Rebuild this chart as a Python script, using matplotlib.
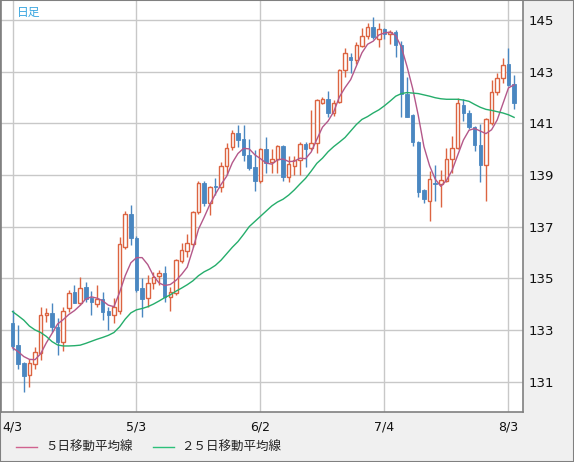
import matplotlib
matplotlib.use('Agg')
import matplotlib.pyplot as plt
from matplotlib.lines import Line2D
import matplotlib.patches as mpatches
import numpy as np

# ---- data (USD/JPY daily) ----
opens = [133.26, 132.42, 131.71, 131.24, 131.67, 132.10, 133.57, 133.64, 133.10, 132.55,
         133.84, 134.46, 134.06, 134.65, 134.22, 134.00, 134.20, 133.73, 133.58, 133.75,
         136.20, 137.48, 136.57, 134.61, 134.23, 134.80, 135.09, 135.19, 134.29, 134.44,
         135.68, 136.07, 136.33, 137.58, 138.70, 137.93, 138.57, 138.52, 139.35, 140.07,
         140.61, 140.38, 139.77, 139.32, 138.78, 139.99, 139.51, 139.60, 140.12, 138.91,
         139.35, 139.58, 140.20, 140.03, 140.25, 141.80, 141.93, 141.39, 141.84, 143.06,
         143.58, 143.45, 144.00, 144.38, 144.71, 144.25, 144.64, 144.46, 144.55, 144.03,
         142.13, 141.32, 140.29, 138.42, 138.00, 138.70, 138.65, 138.78, 139.60, 140.03,
         141.71, 141.41, 140.87, 140.16, 139.39, 141.03, 142.20, 142.74, 143.30, 142.52]
highs = [133.77, 133.19, 131.75, 131.89, 132.33, 133.88, 133.86, 134.06, 133.45, 133.88,
         134.55, 134.74, 135.06, 134.85, 134.50, 134.74, 134.46, 133.90, 134.22, 136.60,
         137.60, 137.82, 136.62, 135.00, 135.13, 135.26, 135.32, 135.48, 134.68, 135.75,
         136.35, 136.72, 137.62, 138.78, 138.75, 138.57, 138.87, 139.52, 140.25, 140.74,
         140.93, 140.93, 140.38, 139.96, 140.05, 140.48, 139.99, 140.16, 140.15, 139.73,
         139.73, 140.29, 140.29, 141.51, 141.95, 142.00, 142.26, 141.90, 143.10, 143.90,
         143.73, 144.16, 144.68, 144.90, 145.10, 144.87, 144.68, 144.60, 144.62, 144.20,
         142.80, 141.35, 140.30, 138.45, 139.17, 139.40, 139.19, 140.03, 140.51, 141.97,
         141.93, 141.51, 140.90, 140.99, 141.19, 142.68, 142.95, 143.52, 143.90, 142.87]
lows = [132.22, 131.49, 130.61, 130.78, 131.50, 131.84, 133.30, 132.91, 132.03, 132.20,
        133.70, 134.03, 133.97, 134.10, 133.58, 133.90, 133.39, 133.00, 133.26, 133.60,
        136.15, 136.30, 134.45, 133.49, 133.90, 134.60, 134.74, 134.10, 133.75, 134.35,
        135.60, 135.84, 136.20, 137.49, 137.80, 137.45, 138.22, 138.35, 139.00, 139.95,
        140.10, 139.55, 139.19, 138.39, 138.70, 139.06, 139.06, 139.06, 138.78, 138.74,
        138.99, 138.99, 139.30, 139.96, 139.86, 141.75, 141.23, 141.28, 141.80, 142.80,
        142.93, 143.30, 143.95, 144.25, 144.25, 143.94, 144.25, 144.07, 143.55, 141.23,
        141.23, 140.12, 138.16, 137.93, 137.23, 138.00, 137.75, 138.74, 139.09, 139.99,
        141.10, 140.77, 139.94, 138.74, 138.00, 140.95, 142.10, 142.55, 142.45, 141.54]
closes = [132.38, 131.68, 131.22, 131.71, 132.13, 133.57, 133.64, 133.10, 132.55, 133.72,
          134.42, 134.06, 134.61, 134.19, 134.10, 134.20, 133.71, 133.59, 133.90, 136.33,
          137.49, 136.55, 134.55, 134.20, 134.80, 135.04, 135.19, 134.29, 134.48, 135.71,
          136.10, 136.35, 137.58, 138.70, 137.93, 138.55, 138.52, 139.34, 140.03, 140.61,
          140.35, 139.77, 139.26, 138.78, 139.99, 139.48, 139.60, 140.12, 138.91, 139.42,
          139.58, 140.20, 139.99, 140.25, 141.90, 141.93, 141.39, 141.80, 143.06, 143.73,
          143.45, 144.03, 144.38, 144.71, 144.33, 144.64, 144.46, 144.55, 144.03, 142.13,
          141.26, 140.29, 138.35, 138.06, 138.83, 138.65, 138.80, 139.60, 140.03, 141.77,
          141.41, 140.84, 140.16, 139.39, 141.15, 142.20, 142.74, 143.26, 142.48, 141.77]
ma5 = [132.31, 132.16, 131.97, 131.86, 131.85, 132.08, 132.50, 132.86, 133.23, 133.40,
       133.60, 133.75, 133.95, 134.20, 134.28, 134.23, 134.13, 133.96, 133.90, 134.45,
       135.10, 135.60, 135.80, 135.80, 135.53, 135.10, 134.82, 134.72, 134.76, 134.92,
       135.15, 135.43, 136.12, 136.90, 137.36, 137.85, 138.26, 138.63, 138.95, 139.47,
       139.83, 140.03, 140.01, 139.78, 139.63, 139.46, 139.42, 139.58, 139.62, 139.52,
       139.53, 139.65, 139.63, 139.89, 140.38, 140.85, 141.09, 141.45, 142.02, 142.38,
       142.69, 143.21, 143.73, 144.06, 144.18, 144.42, 144.50, 144.53, 144.39, 143.95,
       143.20, 142.35, 141.30, 140.10, 139.36, 138.84, 138.56, 138.79, 139.18, 139.77,
       140.35, 140.73, 140.80, 140.70, 140.60, 140.75, 141.13, 141.75, 142.37, 142.49]
ma25 = [133.71, 133.55, 133.38, 133.15, 133.00, 132.90, 132.75, 132.55, 132.42, 132.38,
        132.38, 132.39, 132.41, 132.48, 132.56, 132.64, 132.71, 132.79, 132.90, 133.12,
        133.42, 133.66, 133.78, 133.83, 133.90, 134.00, 134.12, 134.25, 134.36, 134.50,
        134.62, 134.75, 134.90, 135.10, 135.25, 135.36, 135.50, 135.70, 135.95, 136.20,
        136.42, 136.70, 137.00, 137.20, 137.40, 137.60, 137.80, 137.95, 138.06, 138.22,
        138.42, 138.65, 138.87, 139.15, 139.45, 139.65, 139.90, 140.10, 140.27, 140.45,
        140.70, 140.95, 141.15, 141.26, 141.40, 141.52, 141.68, 141.86, 142.05, 142.15,
        142.19, 142.17, 142.15, 142.10, 142.05, 141.99, 141.95, 141.93, 141.93, 141.93,
        141.90, 141.85, 141.73, 141.62, 141.54, 141.50, 141.45, 141.40, 141.33, 141.23]
tick_pos = [0, 22, 44, 66, 88]
tick_labels = ['4/3', '5/3', '6/2', '7/4', '8/3']
yticks = [131, 133, 135, 137, 139, 141, 143, 145]

UP = '#dc6441'
DOWN = '#4a87c1'
MA5C = '#b4588a'
MA25C = '#25ad6b'
GRID = '#c8c8c8'

W, H = 574, 462
fig = plt.figure(figsize=(W / 100, H / 100), dpi=100, facecolor='#f0f0f0')
ax = fig.add_axes([1 / W, 1 - 412 / H, 522 / W, 412 / H])
ax.set_facecolor('white')

x = np.arange(len(closes))
o = np.array(opens); c = np.array(closes); h = np.array(highs); l = np.array(lows)
up = c >= o

for v in yticks:
    ax.axhline(v, color=GRID, lw=1.0, zorder=0)
for p in tick_pos:
    ax.axvline(p, color=GRID, lw=1.0, zorder=0)

ax.vlines(x[up], l[up], h[up], color=UP, lw=1.0, zorder=2)
ax.vlines(x[~up], l[~up], h[~up], color=DOWN, lw=1.0, zorder=2)
bw = 0.62
body_lo = np.minimum(o, c)
body_h = np.maximum(np.abs(c - o), 0.03)
ax.bar(x[up], body_h[up], bottom=body_lo[up], width=bw, facecolor='white',
       edgecolor=UP, linewidth=1.0, zorder=3)
ax.bar(x[~up], body_h[~up], bottom=body_lo[~up], width=bw, facecolor=DOWN,
       edgecolor=DOWN, linewidth=0.6, zorder=3)

ax.plot(x, ma5, color=MA5C, lw=1.0, zorder=4)
ax.plot(x, ma25, color=MA25C, lw=1.0, zorder=4)

ax.set_xlim((1 - 12.5) / 5.636, (523 - 12.5) / 5.636)
ax.set_ylim(141 - (412 - 123.3) / 25.83, 141 + 123.3 / 25.83)

ax.set_xticks(tick_pos)
ax.set_xticklabels(tick_labels, fontsize=9, color='#111111')
ax.set_yticks(yticks)
ax.set_yticklabels([str(v) for v in yticks], fontsize=9.5, color='#111111')
ax.yaxis.tick_right()
ax.tick_params(axis='both', length=0)
ax.tick_params(axis='x', pad=6)
ax.tick_params(axis='y', pad=4)
for s in ['left', 'bottom', 'right']:
    ax.spines[s].set_color('#808080')
    ax.spines[s].set_linewidth(1.2)
ax.spines['top'].set_visible(False)

cjk = ['Noto Sans CJK JP', 'DejaVu Sans']
ax.text(16 / 522, 1 - 12 / 412, '日足', transform=ax.transAxes, fontsize=8.5,
        color='#3aa6e0', family=cjk, va='center', ha='left')

# legend drawn below axis
ly = 1 - 447 / H
fig.add_artist(Line2D([16 / W, 37 / W], [ly, ly], color='#d0628f', lw=1.0))
fig.text(45 / W, ly, '５日移動平均線', fontsize=9, family=cjk, va='center', ha='left', color='#222222')
fig.add_artist(Line2D([153 / W, 174 / W], [ly, ly], color='#2cc07a', lw=1.0))
fig.text(181 / W, ly, '２５日移動平均線', fontsize=9, family=cjk, va='center', ha='left', color='#222222')

fig.add_artist(mpatches.Rectangle((0, 0), 1, 1, transform=fig.transFigure, fill=False,
                                  edgecolor='#808080', lw=1.5))

fig.savefig('out.png', dpi=100, facecolor=fig.get_facecolor())
